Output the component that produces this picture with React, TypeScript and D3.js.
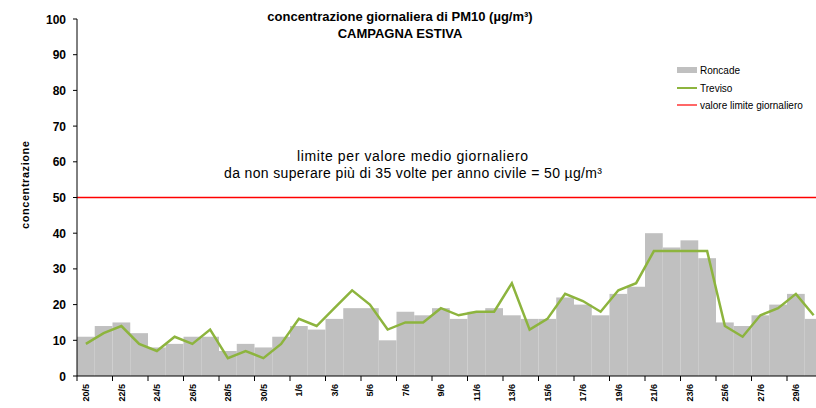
import React, { useEffect, useRef } from 'react';
import * as d3 from 'd3';

const days = [
  '20/5', '21/5', '22/5', '23/5', '24/5', '25/5', '26/5', '27/5', '28/5', '29/5', '30/5', '31/5',
  '1/6', '2/6', '3/6', '4/6', '5/6', '6/6', '7/6', '8/6', '9/6', '10/6', '11/6', '12/6', '13/6',
  '14/6', '15/6', '16/6', '17/6', '18/6', '19/6', '20/6', '21/6', '22/6', '23/6', '24/6', '25/6',
  '26/6', '27/6', '28/6', '29/6', '30/6',
];

const roncade = [
  11, 14, 15, 12, 8, 9, 11, 11, 7, 9, 8, 11,
  14, 13, 16, 19, 19, 10, 18, 17, 19, 16, 18, 19, 17,
  16, 16, 22, 20, 17, 23, 25, 40, 36, 38, 33, 15,
  14, 17, 20, 23, 16,
];

const treviso = [
  9, 12, 14, 9, 7, 11, 9, 13, 5, 7, 5, 9,
  16, 14, 19, 24, 20, 13, 15, 15, 19, 17, 18, 18, 26,
  13, 16, 23, 21, 18, 24, 26, 35, 35, 35, 35, 14,
  11, 17, 19, 23, 17,
];

const limitValue = 50;
const yTicks = [0, 10, 20, 30, 40, 50, 60, 70, 80, 90, 100];

const W = 816;
const H = 408;
const font = "'Liberation Sans', Arial, sans-serif";

export default function App() {
  const ref = useRef<SVGSVGElement | null>(null);

  useEffect(() => {
    const svg = d3.select(ref.current);
    svg.selectAll('*').remove();

    const left = 77;
    const bandW = 17.75;
    const x = d3.scaleBand<string>()
      .domain(days)
      .range([left, left + bandW * days.length])
      .padding(0);
    const y = d3.scaleLinear().domain([0, 100]).range([376, 19]);

    // title
    const title = svg.append('text')
      .attr('text-anchor', 'middle')
      .attr('font-family', font).attr('font-weight', 'bold').attr('font-size', 13);
    title.append('tspan').attr('x', 400).attr('y', 21).text('concentrazione giornaliera di PM10 (µg/m³)');
    title.append('tspan').attr('x', 400).attr('y', 38).text('CAMPAGNA ESTIVA');

    // bars
    svg.append('g').selectAll('rect')
      .data(roncade)
      .enter().append('rect')
      .attr('x', (d, i) => x(days[i])!)
      .attr('width', x.bandwidth())
      .attr('y', d => y(d))
      .attr('height', d => y(0) - y(d))
      .attr('fill', '#c0c0c0');

    // limit line
    svg.append('line')
      .attr('x1', left).attr('x2', W)
      .attr('y1', y(limitValue)).attr('y2', y(limitValue))
      .attr('stroke', '#ff0000').attr('stroke-width', 1.5);

    // treviso line
    const line = d3.line<number>()
      .x((d, i) => x(days[i])! + x.bandwidth() / 2)
      .y(d => y(d));
    svg.append('path')
      .datum(treviso)
      .attr('d', line)
      .attr('fill', 'none')
      .attr('stroke', '#8db43e')
      .attr('stroke-width', 2.5);

    // y axis
    const ya = svg.append('g').attr('font-family', font);
    ya.append('line')
      .attr('x1', left).attr('x2', left)
      .attr('y1', y(100)).attr('y2', y(0))
      .attr('stroke', '#000');
    yTicks.forEach(t => {
      ya.append('line')
        .attr('x1', left - 4).attr('x2', left)
        .attr('y1', y(t)).attr('y2', y(t))
        .attr('stroke', '#000');
      ya.append('text')
        .attr('x', 66).attr('y', y(t) + 4.5)
        .attr('text-anchor', 'end')
        .attr('font-weight', 'bold').attr('font-size', 12)
        .text(t);
    });
    ya.append('text')
      .attr('transform', `translate(29,185) rotate(-90)`)
      .attr('text-anchor', 'middle')
      .attr('font-weight', 'bold').attr('font-size', 11)
      .attr('textLength', 88).attr('lengthAdjust', 'spacing')
      .text('concentrazione');

    // x axis
    const xa = svg.append('g').attr('font-family', font);
    xa.append('line')
      .attr('x1', left).attr('x2', left + bandW * days.length)
      .attr('y1', y(0)).attr('y2', y(0))
      .attr('stroke', '#000');
    days.forEach((d, i) => {
      if (i % 2 !== 0) return;
      const x0 = x(d)!;
      xa.append('line')
        .attr('x1', x0).attr('x2', x0)
        .attr('y1', y(0)).attr('y2', y(0) + 5)
        .attr('stroke', '#000');
      const cx = x0 + x.bandwidth() / 2;
      xa.append('text')
        .attr('transform', `translate(${cx + 3.5},${y(0) + 8}) rotate(-90)`)
        .attr('text-anchor', 'end')
        .attr('font-weight', 'bold').attr('font-size', 9)
        .text(d);
    });

    // annotation
    const note = svg.append('g')
      .attr('font-family', font).attr('font-size', 14);
    note.append('text').attr('x', 297).attr('y', 161)
      .attr('textLength', 231).attr('lengthAdjust', 'spacing')
      .text('limite per valore medio giornaliero');
    note.append('text').attr('x', 224).attr('y', 178)
      .attr('textLength', 378).attr('lengthAdjust', 'spacing')
      .text('da non superare più di 35 volte per anno civile = 50 µg/m³');

    // legend
    const lg = svg.append('g').attr('font-family', font).attr('font-size', 10);
    lg.append('rect').attr('x', 677).attr('y', 67).attr('width', 20).attr('height', 6).attr('fill', '#c0c0c0');
    lg.append('text').attr('x', 700).attr('y', 74).text('Roncade');
    lg.append('line').attr('x1', 677).attr('x2', 697).attr('y1', 88).attr('y2', 88)
      .attr('stroke', '#8db43e').attr('stroke-width', 2);
    lg.append('text').attr('x', 700).attr('y', 91.5).text('Treviso');
    lg.append('line').attr('x1', 677).attr('x2', 697).attr('y1', 105).attr('y2', 105)
      .attr('stroke', '#ff0000').attr('stroke-width', 1.2);
    lg.append('text').attr('x', 700).attr('y', 108.5).text('valore limite giornaliero');
  }, []);

  return (
    <svg ref={ref} width={W} height={H} style={{ position: 'absolute', left: 0, top: 0 }} />
  );
}
